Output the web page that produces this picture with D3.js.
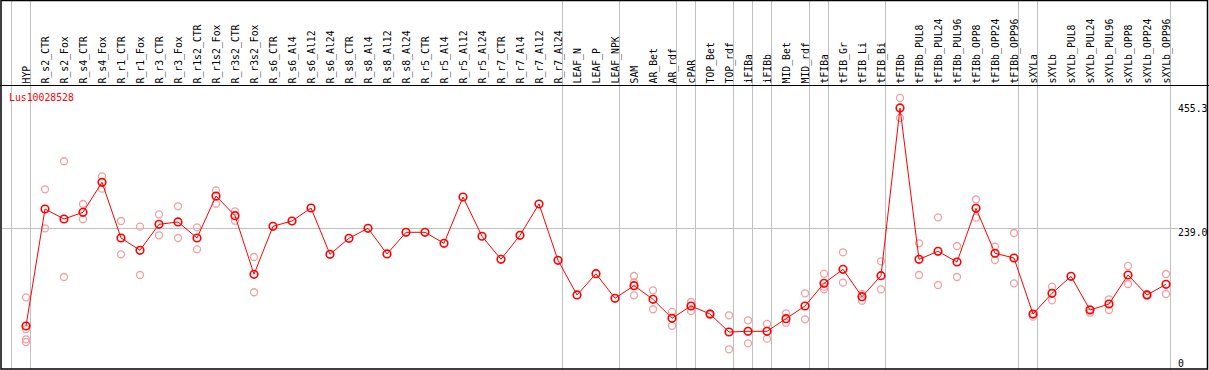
<!DOCTYPE html>
<html><head><meta charset="utf-8">
<script src="https://cdn.jsdelivr.net/npm/d3@7"></script>
<style>body{margin:0;background:#fff}svg{display:block}</style>
</head><body>
<script>
const categories = ["HYP","R_s2_CTR","R_s2_Fox","R_s4_CTR","R_s4_Fox","R_r1_CTR","R_r1_Fox","R_r3_CTR","R_r3_Fox","R_r1s2_CTR","R_r1s2_Fox","R_r3s2_CTR","R_r3s2_Fox","R_s6_CTR","R_s6_Al4","R_s6_Al12","R_s6_Al24","R_s8_CTR","R_s8_Al4","R_s8_Al12","R_s8_Al24","R_r5_CTR","R_r5_Al4","R_r5_Al12","R_r5_Al24","R_r7_CTR","R_r7_Al4","R_r7_Al12","R_r7_Al24","LEAF_N","LEAF_P","LEAF_NPK","SAM","AR_Bet","AR_rdf","cPAR","TOP_Bet","TOP_rdf","iFIBa","iFIBb","MID_Bet","MID_rdf","tFIBa","tFIB_Gr","tFIB_Li","tFIB_Bi","tFIBb","tFIBb_PUL8","tFIBb_PUL24","tFIBb_PUL96","tFIBb_OPP8","tFIBb_OPP24","tFIBb_OPP96","sXYLa","sXYLb","sXYLb_PUL8","sXYLb_PUL24","sXYLb_PUL96","sXYLb_OPP8","sXYLb_OPP24","sXYLb_OPP96"];
const means = [68.8,272.5,255.1,266.7,319.0,222.0,200.6,245.8,249.9,222.0,295.1,260.8,158.8,242.4,251.6,274.2,193.6,221.5,238.9,194.2,231.9,231.9,212.7,293.4,225.0,184.9,226.7,281.2,183.2,122.8,159.8,117.0,139.0,115.3,82.2,103.6,89.7,58.3,59.5,59.5,81.5,103.6,143.1,167.5,119.8,156.4,448.4,184.9,198.8,180.2,273.7,195.4,187.2,89.7,125.7,155.3,96.6,107.1,157.6,122.8,141.4];
const replicates = [
 [118.7,63.5,45.6,40.9],[306.8,238.9],[355.6,154.1],[281.2,254.6],[329.4,307.9],[251.6,193.6],[241.7,157.6],[263.2,226.7],[277.2,222.0],[240.6,202.3],[305.0,281.7],[268.5,252.1],[188.9,127.5],
 [],[],[],[],[],[],[],[],[],[],[],[],[],[],[],[],[],[],[],
 [155.8,144.9,122.2],[130.9,97.9],[93.2,69.3],[110.6,94.9],[90.5,88.0],[87.4,28.2],[78.7,38.6],[72.3,46.7],[90.9,74.5],[125.7,80.4],[159.8,137.3,132.7],[197.1,144.2],[124.5,112.8],[181.4,132.7],[465.8,431.0],
 [212.7,157.6],[258.0,140.2],[208.1,154.1],[289.4,257.4],[206.9,183.7],[230.7,143.1],
 [85.0,88.5],[137.2,113.5],[],[91.9,98.0],[115.3,96.6],[173.3,141.9],[121.5,124.0],[159.3,124.5]
];
const groupEnds = ["HYP","R_r7_Al24","LEAF_NPK","AR_rdf","cPAR","TOP_rdf","iFIBa","iFIBb","MID_rdf","tFIBa","tFIB_Bi","tFIBb_OPP96","sXYLa","sXYLb_OPP96"];
const yTicks = [0, 239.0, 455.3];
const geneName = "Lus10028528";

const W = 1209, H = 370;
const svg = d3.select("body").append("svg").attr("width", W).attr("height", H);
const font = "'DejaVu Sans Mono', 'Liberation Mono', monospace";

const x = d3.scalePoint().domain(categories).range([26, 1166]);
const step = x.step();
const y = d3.scaleLinear().domain([0, 455.3]).range([365.5, 104]);

// vertical grid lines
const gx = [Math.round(x(categories[0]) - step + 4) + 0.5].concat(groupEnds.map(c => Math.round(x(c) + 4) + 0.5));
svg.append("g").selectAll("line").data(gx).join("line")
  .attr("x1", d => d).attr("x2", d => d).attr("y1", 0).attr("y2", H)
  .attr("stroke", "#c0c0c0").attr("stroke-width", 1);

// horizontal grid at middle tick
svg.append("line").attr("x1", 2).attr("x2", 1178)
  .attr("y1", Math.round(y(yTicks[1])) + 0.5).attr("y2", Math.round(y(yTicks[1])) + 0.5)
  .attr("stroke", "#c0c0c0").attr("stroke-width", 1);

// category labels
svg.append("g").selectAll("text").data(categories).join("text")
  .attr("transform", d => `translate(${x(d) + 4},83.5) rotate(-90)`)
  .attr("font-family", font).attr("font-size", "9.8px").attr("fill", "#000")
  .text(d => d);

// header separator
svg.append("line").attr("x1", 0).attr("x2", W).attr("y1", 85.5).attr("y2", 85.5).attr("stroke", "#000");

// y tick labels
svg.append("g").selectAll("text").data(yTicks).join("text")
  .attr("x", 1178)
  .attr("y", d => Math.min(y(d) + 7.5, 366.5))
  .attr("font-family", font).attr("font-size", "9.8px").attr("fill", "#000")
  .text(d => d === 0 ? "0" : d.toFixed(1));

// gene name
svg.append("text").attr("x", 9).attr("y", 101).attr("font-family", font).attr("font-size", "9.8px")
  .attr("fill", "#ff0000").text(geneName);

// replicates
const repPts = [];
categories.forEach((c, i) => replicates[i].forEach(v => repPts.push({c, v})));
svg.append("g").selectAll("circle").data(repPts).join("circle")
  .attr("cx", d => x(d.c)).attr("cy", d => y(d.v)).attr("r", 3.5)
  .attr("fill", "none").attr("stroke", "#f0a0a0").attr("stroke-width", 1.3);

// mean line
const line = d3.line().x((d, i) => x(categories[i])).y(d => y(d));
svg.append("path").datum(means).attr("d", line).attr("fill", "none").attr("stroke", "#ff0000").attr("stroke-width", 1);

svg.append("g").selectAll("circle").data(means).join("circle")
  .attr("cx", (d, i) => x(categories[i])).attr("cy", d => y(d)).attr("r", 3.8)
  .attr("fill", "none").attr("stroke", "#ff0000").attr("stroke-width", 1.6);

// frame
svg.append("rect").attr("x", 1).attr("y", 0.5).attr("width", 1206.5).attr("height", 368.5)
  .attr("fill", "none").attr("stroke", "#000").attr("stroke-width", 1.5);
</script>
</body></html>
